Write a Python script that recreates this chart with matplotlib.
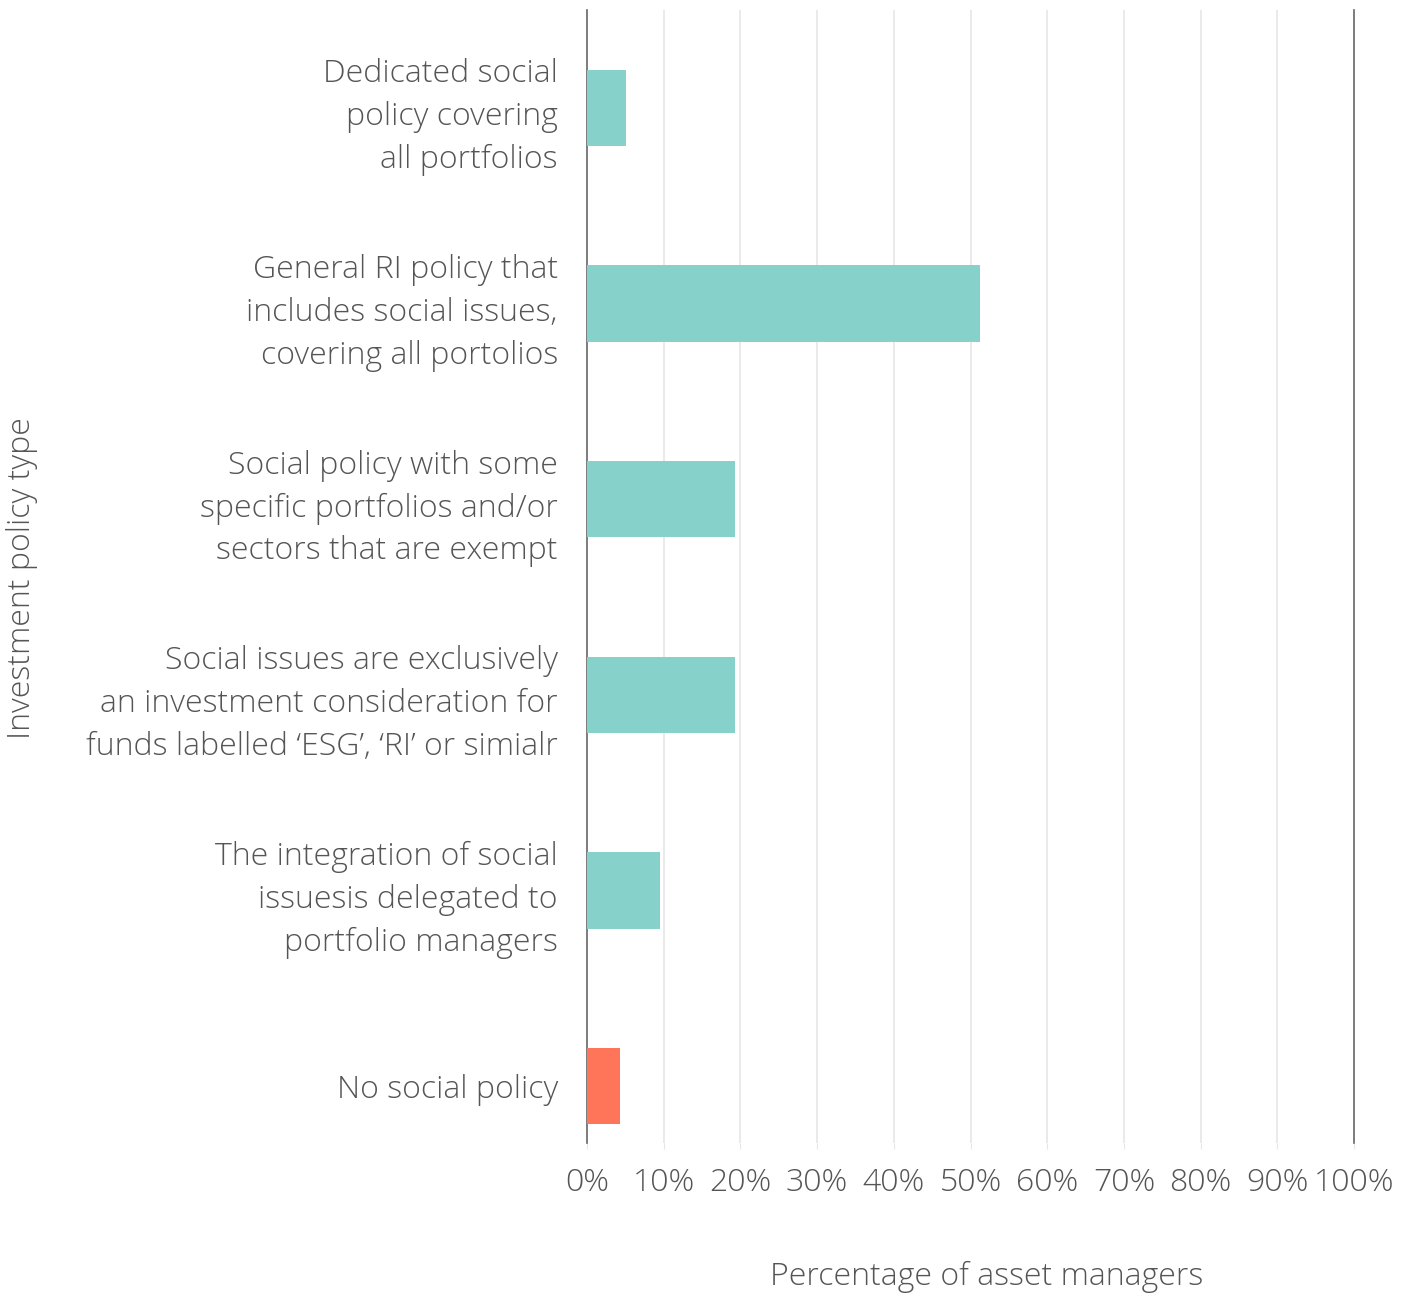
import matplotlib.pyplot as plt
from matplotlib.ticker import FuncFormatter

categories = [
    "Dedicated social\npolicy covering\nall portfolios",
    "General RI policy that\nincludes social issues,\ncovering all portolios",
    "Social policy with some\nspecific portfolios and/or\nsectors that are exempt",
    "Social issues are exclusively\nan investment consideration for\nfunds labelled \u2018ESG\u2019, \u2018RI\u2019 or simialr",
    "The integration of social\nissuesis delegated to\nportfolio managers",
    "No social policy",
]
values = [5.1, 51.2, 19.3, 19.3, 9.5, 4.3]
bar_colors = ["#86D1CA", "#86D1CA", "#86D1CA", "#86D1CA", "#86D1CA", "#FF7559"]
xticks = list(range(0, 101, 10))

plt.rcParams['font.family'] = ['Open Sans', 'DejaVu Sans']
plt.rcParams['font.weight'] = 'light'
text_color = '#555555'
fs = 23

fig = plt.figure(figsize=(14.12, 12.93), dpi=100)
ax = fig.add_axes([587 / 1412, 1 - 1143 / 1293, (1354 - 587) / 1412, (1143 - 10) / 1293])

pos = list(range(len(categories)))
ax.barh(pos, values, height=0.39, color=bar_colors, zorder=3)
ax.set_yticks(pos)
ax.set_yticklabels(categories, fontsize=fs, color=text_color, linespacing=1.45, fontweight='light')
ax.set_ylim(5.29, -0.50)
ax.set_xlim(0, 100)
ax.set_xticks(xticks)
ax.xaxis.set_major_formatter(FuncFormatter(lambda v, p: f"{int(v)}%"))
ax.tick_params(axis='x', labelsize=fs, labelcolor=text_color, length=4, color='#e6e6e6', pad=13)
ax.tick_params(axis='y', length=0, pad=21)
for lbl in ax.get_xticklabels():
    lbl.set_fontweight('light')

for x in xticks[1:-1]:
    ax.axvline(x, color='#e6e6e6', lw=1.2, zorder=1)

for s in ['top', 'bottom']:
    ax.spines[s].set_visible(False)
ax.spines['left'].set_color('#666666')
ax.spines['right'].set_color('#666666')
ax.spines['left'].set_linewidth(1.2)
ax.spines['right'].set_linewidth(1.2)

fig.text(987 / 1412, 1 - 1277 / 1293, "Percentage of asset managers", ha='center', va='center',
         fontsize=fs, color=text_color, fontweight='light')
fig.text(22 / 1412, 1 - 578 / 1293, "Investment policy type", ha='center', va='center',
         rotation=90, fontsize=fs, color=text_color, fontweight='light')

plt.savefig('out.png', dpi=100)
